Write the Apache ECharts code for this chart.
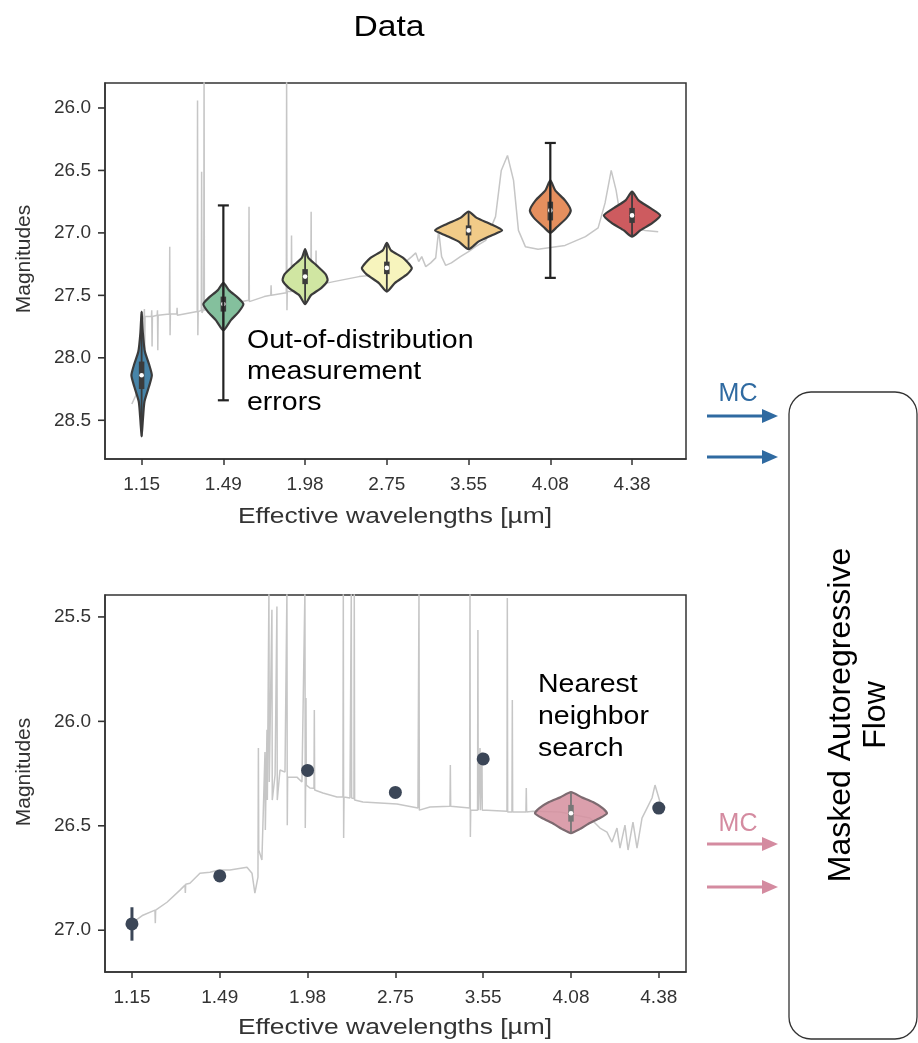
<!DOCTYPE html>
<html>
  <head>
    <meta charset="utf-8">
    <title>Data</title>
    <script src="https://cdn.jsdelivr.net/npm/echarts@6/dist/echarts.min.js"></script>
    <style>
      html, body { margin: 0; padding: 0; background: #fff; }
      #main { width: 918px; height: 1043px; }
    </style>
  </head>
  <body>
    <div id="main"></div>
    <script type="text/javascript">
      // 波长刻度（两个面板相同）
      var waveLabels = ['1.15', '1.49', '1.98', '2.75', '3.55', '4.08', '4.38'];
      var waveIdx = [0, 1, 2, 3, 4, 5, 6];
      var topMagTicks = [26.0, 26.5, 27.0, 27.5, 28.0, 28.5];
      var botMagTicks = [25.5, 26.0, 26.5, 27.0];

      // 上图: 光谱 [x位置, 星等]
      var specTop = [
        [-0.12, 28.37], [-0.07, 28.30], [-0.02, 28.02], [0.01, 27.70],
        [0.03, 27.66], [0.034, 27.61], [0.038, 27.93], [0.042, 27.67],
        [0.12, 27.67], [0.124, 27.62], [0.128, 27.91], [0.132, 27.67],
        [0.19, 27.66], [0.194, 27.62], [0.198, 27.94], [0.202, 27.66],
        [0.34, 27.65], [0.344, 27.11], [0.348, 27.82], [0.352, 27.65],
        [0.43, 27.65], [0.434, 27.60], [0.438, 27.66], [0.60, 27.64],
        [0.68, 27.63], [0.684, 25.94], [0.688, 27.82], [0.692, 27.63],
        [0.73, 27.62], [0.734, 26.51], [0.738, 27.64], [0.76, 27.61],
        [0.764, 25.70], [0.768, 27.62], [0.85, 27.60], [1.00, 27.58],
        [1.15, 27.56], [1.31, 27.54], [1.314, 26.79], [1.318, 27.55],
        [1.50, 27.51], [1.58, 27.50], [1.584, 27.42], [1.588, 27.50],
        [1.77, 27.48], [1.774, 25.70], [1.778, 27.62], [1.782, 27.47],
        [1.83, 27.47], [1.834, 27.02], [1.838, 27.47], [2.07, 27.43],
        [2.074, 26.83], [2.078, 27.43], [2.13, 27.42], [2.134, 27.14],
        [2.138, 27.42], [2.35, 27.39], [2.66, 27.35], [2.98, 27.33],
        [3.05, 27.31], [3.054, 27.40], [3.058, 27.31], [3.10, 27.30],
        [3.104, 27.39], [3.108, 27.30], [3.15, 27.28], [3.20, 27.25],
        [3.25, 27.22], [3.305, 27.19], [3.354, 27.16], [3.39, 27.23],
        [3.427, 27.19], [3.476, 27.27], [3.537, 27.24], [3.598, 27.20],
        [3.634, 26.98], [3.67, 27.19], [3.72, 27.26], [3.79, 27.24],
        [3.90, 27.19], [4.00, 27.15], [4.085, 27.11], [4.21, 27.06],
        [4.33, 26.87], [4.40, 26.50], [4.476, 26.38], [4.55, 26.58],
        [4.61, 26.98], [4.695, 27.11], [4.85, 27.13], [5.18, 27.10],
        [5.43, 27.03], [5.585, 26.96], [5.67, 26.76], [5.745, 26.50],
        [5.805, 26.66], [5.85, 26.84], [5.99, 26.95], [6.16, 26.98],
        [6.32, 26.99]
      ];

      // 上图: 小提琴 (中位数, 四分位, 轮廓)
      var topMedians = [28.14, 27.57, 27.35, 27.28, 26.98, 26.82, 26.86];
      var topQ1 = [28.03, 27.51, 27.29, 27.23, 26.94, 26.75, 26.80];
      var topQ3 = [28.25, 27.63, 27.41, 27.33, 27.02, 26.90, 26.92];
      var topViolinMag = [
        [27.63, 27.80, 27.95, 28.05, 28.14, 28.23, 28.35, 28.50, 28.63],
        [27.40, 27.46, 27.52, 27.57, 27.63, 27.70, 27.78],
        [27.13, 27.20, 27.26, 27.33, 27.38, 27.44, 27.50, 27.57],
        [27.08, 27.14, 27.20, 27.28, 27.33, 27.40, 27.47],
        [26.83, 26.88, 26.93, 26.98, 27.02, 27.07, 27.13],
        [26.58, 26.66, 26.74, 26.82, 26.88, 26.96, 27.00],
        [26.67, 26.74, 26.80, 26.86, 26.92, 26.98, 27.03]
      ];
      var topViolinWidth = [
        [0, 0.015, 0.04, 0.09, 0.125, 0.09, 0.035, 0.015, 0],
        [0, 0.07, 0.18, 0.245, 0.19, 0.09, 0],
        [0, 0.04, 0.14, 0.25, 0.275, 0.2, 0.07, 0],
        [0, 0.05, 0.2, 0.305, 0.25, 0.1, 0],
        [0, 0.1, 0.27, 0.41, 0.28, 0.12, 0],
        [0, 0.06, 0.18, 0.25, 0.2, 0.07, 0],
        [0, 0.08, 0.22, 0.345, 0.25, 0.1, 0]
      ];

      // 上图: 误差棒
      var topErrX = [1, 5];
      var topErrLow = [26.78, 26.28];
      var topErrHigh = [28.34, 27.36];

      // 下图: 光谱
      var specBottom = [
        [0.0, 26.966], [0.125, 26.928], [0.262, 26.904], [0.266, 26.966],
        [0.27, 26.904], [0.399, 26.866], [0.547, 26.808], [0.604, 26.784],
        [0.608, 26.822], [0.612, 26.78], [0.66, 26.775], [0.774, 26.727],
        [0.888, 26.722], [0.991, 26.712], [1.116, 26.712], [1.31, 26.698],
        [1.367, 26.727], [1.40, 26.822], [1.435, 26.746], [1.44, 26.128],
        [1.444, 26.616], [1.48, 26.664], [1.515, 26.147], [1.519, 26.52],
        [1.538, 26.04], [1.542, 26.377], [1.56, 25.37], [1.564, 26.29],
        [1.594, 25.466], [1.598, 26.377], [1.63, 26.257], [1.651, 25.45],
        [1.655, 26.377], [1.686, 26.233], [1.743, 26.243], [1.765, 25.37],
        [1.769, 26.497], [1.773, 26.267], [1.879, 26.267], [1.936, 26.29],
        [1.97, 25.37], [1.974, 26.511], [1.978, 26.30], [1.982, 25.888],
        [1.986, 26.305], [2.027, 26.319], [2.073, 26.32], [2.077, 25.946],
        [2.081, 26.329], [2.175, 26.343], [2.335, 26.362], [2.403, 26.362],
        [2.407, 25.37], [2.411, 26.559], [2.415, 26.362], [2.483, 26.367],
        [2.494, 26.367], [2.498, 25.37], [2.502, 26.367], [2.528, 26.37],
        [2.532, 25.37], [2.536, 26.377], [2.631, 26.386], [2.825, 26.391],
        [3.018, 26.396], [3.257, 26.415], [3.265, 26.415], [3.269, 25.37],
        [3.273, 26.425], [3.394, 26.41], [3.622, 26.406], [3.626, 26.209],
        [3.63, 26.406], [3.846, 26.415], [3.85, 25.37], [3.854, 26.554],
        [3.858, 26.425], [3.936, 26.425], [3.94, 25.562], [3.944, 26.425],
        [3.96, 26.425], [3.964, 26.128], [3.968, 26.425], [3.982, 26.425],
        [3.986, 26.147], [3.99, 26.425], [4.043, 26.425], [4.271, 26.43],
        [4.275, 25.409], [4.279, 26.434], [4.328, 26.434], [4.332, 25.898],
        [4.336, 26.434], [4.487, 26.434], [4.491, 26.319], [4.495, 26.434],
        [4.567, 26.43], [4.875, 26.434], [5.216, 26.463], [5.33, 26.511],
        [5.41, 26.53], [5.467, 26.578], [5.524, 26.511], [5.558, 26.607],
        [5.615, 26.497], [5.65, 26.616], [5.706, 26.482], [5.752, 26.607],
        [5.809, 26.463], [5.866, 26.415], [5.923, 26.367], [5.957, 26.305],
        [6.014, 26.386], [6.071, 26.415]
      ];

      // 下图: 最近邻点
      var botPointX = [0, 1, 2, 3, 4, 6];
      var botPointY = [26.97, 26.74, 26.235, 26.34, 26.18, 26.415];
      var botErrX = [0];
      var botErrLow = [26.89];
      var botErrHigh = [27.05];

      // 下图: 4.08 的小提琴
      var botViolinX = [5];
      var botMedians = [26.44];
      var botQ1 = [26.40];
      var botQ3 = [26.48];
      var botViolinMag = [[26.339, 26.363, 26.386, 26.415, 26.44, 26.463, 26.49, 26.516, 26.535]];
      var botViolinWidth = [[0, 0.12, 0.25, 0.36, 0.41, 0.33, 0.2, 0.1, 0]];

      var topFill = ['#4784a8', '#84c09d', '#d0e6a2', '#f7f4bd', '#f1cb88', '#e58f5e', '#cd5b5f'];
      var botFill = ['rgba(214,146,160,0.88)'];
      var FONT = '"Liberation Sans", Arial, sans-serif';

      function violinRenderer(mags, widths, q1s, q3s, fills, edge, inner) {
        return function (params, api) {
          var i = params.dataIndex;
          var xc = api.value(0), med = api.value(1);
          var m = mags[i], w = widths[i];
          var pts = [];
          for (var k = 0; k < m.length; k++) pts.push(api.coord([xc + w[k], m[k]]));
          for (var k = m.length - 2; k > 0; k--) pts.push(api.coord([xc - w[k], m[k]]));
          var top = api.coord([xc, m[0]]);
          var bot = api.coord([xc, m[m.length - 1]]);
          var a = api.coord([xc, q1s[i]]), b = api.coord([xc, q3s[i]]);
          var c = api.coord([xc, med]);
          return {
            type: 'group',
            children: [
              { type: 'polygon', shape: { points: pts, smooth: 0.2 },
                style: { fill: fills[i], stroke: edge, lineWidth: 2.2 } },
              { type: 'line', shape: { x1: top[0], y1: top[1], x2: bot[0], y2: bot[1] },
                style: { stroke: inner, lineWidth: 1.8 } },
              { type: 'line', shape: { x1: a[0], y1: a[1], x2: b[0], y2: b[1] },
                style: { stroke: inner, lineWidth: 5.5 } },
              { type: 'circle', shape: { cx: c[0], cy: c[1], r: 2.3 }, style: { fill: '#fff' } }
            ]
          };
        };
      }

      function errRenderer(capHalf, color, width) {
        return function (params, api) {
          var lo = api.coord([api.value(0), api.value(1)]);
          var hi = api.coord([api.value(0), api.value(2)]);
          var kids = [
            { type: 'line', shape: { x1: lo[0], y1: lo[1], x2: hi[0], y2: hi[1] },
              style: { stroke: color, lineWidth: width } }
          ];
          if (capHalf > 0) {
            kids.push({ type: 'line', shape: { x1: lo[0] - capHalf, y1: lo[1], x2: lo[0] + capHalf, y2: lo[1] },
              style: { stroke: color, lineWidth: width } });
            kids.push({ type: 'line', shape: { x1: hi[0] - capHalf, y1: hi[1], x2: hi[0] + capHalf, y2: hi[1] },
              style: { stroke: color, lineWidth: width } });
          }
          return { type: 'group', children: kids };
        };
      }

      function xAxisCfg(grid, min, max) {
        return {
          gridIndex: grid, type: 'value', min: min, max: max,
          axisLine: { show: true, onZero: false, lineStyle: { color: '#333', width: 1.5 } },
          axisTick: { show: true, length: 6, customValues: waveIdx, lineStyle: { color: '#333', width: 1.5 } },
          axisLabel: { customValues: waveIdx, margin: 16, fontSize: 19, color: '#333', fontFamily: FONT,
            formatter: function (v) { return waveLabels[Math.round(v)]; } },
          splitLine: { show: false }
        };
      }
      function yAxisCfg(grid, min, max, ticks) {
        return {
          gridIndex: grid, type: 'value', inverse: true, min: min, max: max, position: 'left',
          axisLine: { show: true, onZero: false, lineStyle: { color: '#333', width: 1.5 } },
          axisTick: { show: false },
          axisLabel: { customValues: ticks, margin: 14, fontSize: 19, color: '#333', fontFamily: FONT,
            formatter: function (v) { return v.toFixed(1); } },
          splitLine: { show: false }
        };
      }

      function label(text, x, y, opts) {
        var o = opts || {};
        return {
          type: 'text', x: x, y: y, rotation: o.rotation || 0, scaleX: o.scaleX || 1,
          style: { text: text, fontSize: o.size || 21, lineHeight: o.lineHeight, fontFamily: FONT,
            fill: o.color || '#000', align: o.align || 'center', verticalAlign: o.valign || 'middle' }
        };
      }

      function arrow(y, color) {
        return {
          type: 'group',
          children: [
            { type: 'line', shape: { x1: 707, y1: y, x2: 765, y2: y }, style: { stroke: color, lineWidth: 3 } },
            { type: 'polygon', shape: { points: [[762, y - 7], [778, y], [762, y + 7]] }, style: { fill: color } }
          ]
        };
      }

      var baseGraphic = [
        label('Data', 389, 28, { size: 30, scaleX: 1.12 }),
        label('Magnitudes', 24, 259, { rotation: Math.PI / 2, color: '#333' }),
        label('Magnitudes', 24, 772, { rotation: Math.PI / 2, color: '#333' }),
        label('Effective wavelengths [µm]', 395, 517, { size: 22, scaleX: 1.2, color: '#333' }),
        label('Effective wavelengths [µm]', 395, 1028, { size: 22, scaleX: 1.2, color: '#333' }),
        label('Out-of-distribution\nmeasurement\nerrors', 247, 326,
          { size: 25, lineHeight: 31, scaleX: 1.14, align: 'left', valign: 'top' }),
        label('Nearest\nneighbor\nsearch', 538, 669,
          { size: 25, lineHeight: 32, scaleX: 1.14, align: 'left', valign: 'top' }),
        label('MC', 738, 394, { size: 25, color: '#2f6aa1' }),
        label('MC', 738, 824, { size: 25, color: '#d48ba0' }),
        arrow(416, '#2f6aa1'),
        arrow(457, '#2f6aa1'),
        arrow(844, '#d48ba0'),
        arrow(887, '#d48ba0'),
        { type: 'rect', shape: { x: 789, y: 392, width: 128, height: 647, r: 22 },
          style: { fill: 'none', stroke: '#333', lineWidth: 1.3 } },
        label('Masked Autoregressive\nFlow', 859, 715, { size: 32, lineHeight: 35, rotation: Math.PI / 2 })
      ];

      var xRanges = [[-0.448, 6.66], [-0.307, 6.31]];

      var myChart = echarts.init(document.getElementById('main'));
      var option = {
        animation: false,
        backgroundColor: '#fff',
        grid: [
          { left: 105, top: 83, width: 581, height: 376, show: true, borderColor: '#333', borderWidth: 1.5 },
          { left: 105, top: 595, width: 581, height: 377, show: true, borderColor: '#333', borderWidth: 1.5 }
        ],
        xAxis: [xAxisCfg(0, xRanges[0][0], xRanges[0][1]), xAxisCfg(1, xRanges[1][0], xRanges[1][1])],
        yAxis: [yAxisCfg(0, 25.8, 28.81, topMagTicks), yAxisCfg(1, 25.395, 27.2, botMagTicks)],
        series: [
          {
            type: 'line', xAxisIndex: 0, yAxisIndex: 0, data: specTop, showSymbol: false, silent: true,
            lineStyle: { color: '#c6c6c6', width: 1.5 }, z: 1
          },
          {
            type: 'custom', xAxisIndex: 0, yAxisIndex: 0, z: 3,
            data: topMedians.map(function (m, i) { return [i, m]; }),
            renderItem: violinRenderer(topViolinMag, topViolinWidth, topQ1, topQ3, topFill, '#3b3b3b', '#3b3b3b')
          },
          {
            type: 'custom', xAxisIndex: 0, yAxisIndex: 0, z: 4,
            data: topErrX.map(function (x, i) { return [x, topErrLow[i], topErrHigh[i]]; }),
            renderItem: errRenderer(5.5, '#222', 2.2)
          },
          {
            type: 'line', xAxisIndex: 1, yAxisIndex: 1, data: specBottom, showSymbol: false, silent: true,
            lineStyle: { color: '#c6c6c6', width: 1.5 }, z: 1
          },
          {
            type: 'custom', xAxisIndex: 1, yAxisIndex: 1, z: 3,
            data: botViolinX.map(function (x, i) { return [x, botMedians[i]]; }),
            renderItem: violinRenderer(botViolinMag, botViolinWidth, botQ1, botQ3, botFill, '#7d6a70', '#777777')
          },
          {
            type: 'custom', xAxisIndex: 1, yAxisIndex: 1, z: 4,
            data: botErrX.map(function (x, i) { return [x, botErrLow[i], botErrHigh[i]]; }),
            renderItem: errRenderer(0, '#3b4657', 3)
          },
          {
            type: 'scatter', xAxisIndex: 1, yAxisIndex: 1, z: 5, symbolSize: 13,
            data: botPointX.map(function (x, i) { return [x, botPointY[i]]; }),
            itemStyle: { color: '#3b4657', opacity: 1 }
          }
        ],
        graphic: baseGraphic
      };
      myChart.setOption(option);

      // y 轴刻度线：用图表自己的比例尺换算位置
      var tickLines = [];
      [topMagTicks, botMagTicks].forEach(function (ticks, g) {
        ticks.forEach(function (v) {
          var p = myChart.convertToPixel({ gridIndex: g }, [xRanges[g][0], v]);
          tickLines.push({
            type: 'line', z: 100,
            shape: { x1: p[0] - 7, y1: p[1], x2: p[0], y2: p[1] },
            style: { stroke: '#333', lineWidth: 1.6 }
          });
        });
      });
      myChart.setOption({ graphic: baseGraphic.concat(tickLines) });
    </script>
  </body>
</html>
